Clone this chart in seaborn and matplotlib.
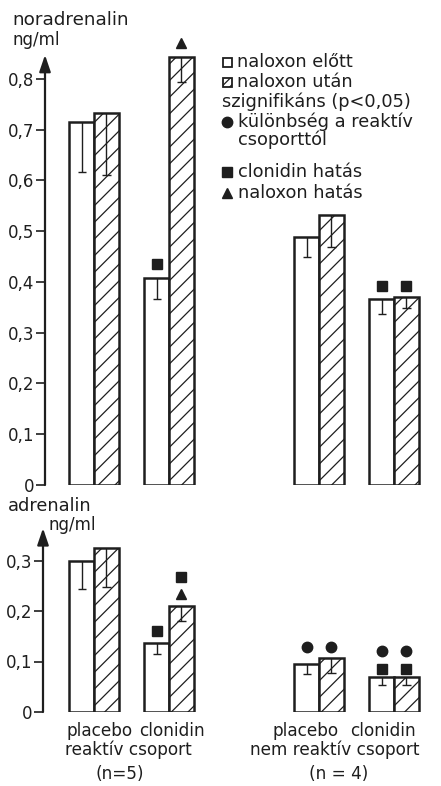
import matplotlib
matplotlib.use("Agg")
import matplotlib.pyplot as plt
import numpy as np
import pandas as pd
import seaborn as sns
from matplotlib.lines import Line2D
from matplotlib.patches import Rectangle

# ---- data -------------------------------------------------------------
# group positions along x (a gap separates the reactive and non-reactive halves)
group_pos = [0, 1, 3, 4]
phases = ["naloxon előtt", "naloxon után"]

# noradrenalin, ng/ml (mean, downward SE)
nor_before = [0.715, 0.408, 0.489, 0.366]
nor_after = [0.733, 0.843, 0.532, 0.370]
nor_before_err = [0.098, 0.042, 0.040, 0.029]
nor_after_err = [0.123, 0.049, 0.063, 0.021]

# adrenalin, ng/ml (mean, downward SE)
adr_before = [0.300, 0.137, 0.096, 0.070]
adr_after = [0.325, 0.210, 0.106, 0.070]
adr_before_err = [0.057, 0.022, 0.020, 0.016]
adr_after_err = [0.077, 0.030, 0.028, 0.016]

# significance symbols: (group index, phase index, symbol, height)
nor_marks = [(1, 0, "s", 0.435), (1, 1, "^", 0.870),
             (3, 0, "s", 0.392), (3, 1, "s", 0.392)]
adr_marks = [(1, 0, "s", 0.160), (1, 1, "^", 0.233), (1, 1, "s", 0.267),
             (2, 0, "o", 0.128), (2, 1, "o", 0.128),
             (3, 0, "s", 0.086), (3, 1, "s", 0.086),
             (3, 0, "o", 0.120), (3, 1, "o", 0.120)]

nor_ticks = [0, 0.1, 0.2, 0.3, 0.4, 0.5, 0.6, 0.7, 0.8]
adr_ticks = [0, 0.1, 0.2, 0.3]

legend_rows = ["naloxon előtt", "naloxon után", "szignifikáns (p<0,05)",
               "különbség a reaktív", "csoporttól", "clonidin hatás", "naloxon hatás"]

# ---- style ------------------------------------------------------------
sns.set_style("ticks")
INK = "#1e1e1e"
plt.rcParams["font.family"] = ["DejaVu Sans"]
plt.rcParams["hatch.linewidth"] = 0.9
plt.rcParams["hatch.color"] = INK
plt.rcParams["text.color"] = INK

W, H = 441, 786
fig = plt.figure(figsize=(W / 100, H / 100), dpi=100, facecolor="white")


def px_rect(left, top, right, bottom):
    return [left / W, 1 - bottom / H, (right - left) / W, (bottom - top) / H]


def fx(x):
    return x / W


def fy(y):
    return 1 - y / H


def fmt_tick(t):
    return "0" if t == 0 else f"{t:.1f}".replace(".", ",")


def draw_panel(ax, before, after, before_err, after_err, marks, ticks,
               ylim, tip, xlim):
    df = pd.DataFrame({
        "pos": group_pos * 2,
        "phase": [phases[0]] * len(before) + [phases[1]] * len(after),
        "value": before + after,
    })
    sns.barplot(data=df, x="pos", y="value", hue="phase", hue_order=phases,
                native_scale=True, width=0.66, palette=["white", "white"],
                saturation=1, edgecolor=INK, linewidth=1.8, errorbar=None,
                legend=False, ax=ax)
    for patch in ax.containers[1]:
        patch.set_hatch("//")

    errs = [before_err, after_err]
    vals = [before, after]
    centers = []
    for k, cont in enumerate(ax.containers[:2]):
        cx = [p.get_x() + p.get_width() / 2 for p in cont]
        centers.append(cx)
        for i, x in enumerate(cx):
            lo = vals[k][i] - errs[k][i]
            ax.vlines(x, lo, vals[k][i], color=INK, lw=1.0, zorder=3)
            ax.hlines(lo, x - 0.055, x + 0.055, color=INK, lw=1.0, zorder=3)

    for gi, ph, sym, yv in marks:
        ms = {"s": 6.8, "^": 7.5, "o": 7.5}[sym]
        ax.plot(centers[ph][gi], yv, marker=sym, ms=ms, color=INK,
                ls="none", clip_on=False, zorder=4)

    ax.set_xlim(*xlim)
    ax.set_ylim(*ylim)
    ax.set_xticks([])
    ax.set_xlabel("")
    ax.set_ylabel("")
    ax.set_yticks(ticks)
    ax.set_yticklabels([fmt_tick(t) for t in ticks])
    ax.tick_params(axis="y", direction="out", length=6.5, width=1.2,
                   color=INK, pad=1, labelsize=12, labelcolor=INK)
    for s in ["top", "right", "bottom", "left"]:
        ax.spines[s].set_visible(False)
    ax.patch.set_alpha(0)
    # y axis drawn as an arrow
    ax.annotate("", xy=(0, tip), xytext=(0, 0),
                xycoords=("axes fraction", "data"),
                textcoords=("axes fraction", "data"),
                arrowprops=dict(arrowstyle="-|>,head_length=1.0,head_width=0.34",
                                color=INK, lw=1.6, shrinkA=0, shrinkB=0),
                annotation_clip=False)


unit = 75.0      # pixels per group step
x0 = 94.0        # pixel position of the first group
ax_top = fig.add_axes(px_rect(45, 28, 441, 485))
draw_panel(ax_top, nor_before, nor_after, nor_before_err, nor_after_err,
           nor_marks, nor_ticks, (0, 0.9), 0.847,
           ((45 - x0) / unit, (441 - x0) / unit))

ax_bot = fig.add_axes(px_rect(43, 510, 441, 712))
draw_panel(ax_bot, adr_before, adr_after, adr_before_err, adr_after_err,
           adr_marks, adr_ticks, (0, 0.4), 0.364,
           ((43 - x0) / unit, (441 - x0) / unit))

# ---- axis titles ------------------------------------------------------
fig.text(fx(12), fy(25), "noradrenalin", fontsize=13.2, va="baseline")
fig.text(fx(12), fy(45), "ng/ml", fontsize=12, va="baseline")
fig.text(fx(8), fy(511), "adrenalin", fontsize=12.8, va="baseline")
fig.text(fx(48), fy(530), "ng/ml", fontsize=12, va="baseline")

# ---- key --------------------------------------------------------------
fig.add_artist(Rectangle((fx(223), fy(67)), 9 / W, 9 / H, transform=fig.transFigure,
                         facecolor="white", edgecolor=INK, lw=1.3))
fig.add_artist(Rectangle((fx(223), fy(87)), 9 / W, 9 / H, transform=fig.transFigure,
                         facecolor="white", edgecolor=INK, lw=1.3, hatch="////"))
fig.add_artist(Line2D([fx(227)], [fy(122)], marker="o", ms=7.5, color=INK,
                      transform=fig.transFigure))
fig.add_artist(Line2D([fx(227)], [fy(172)], marker="s", ms=6.8, color=INK,
                      transform=fig.transFigure))
fig.add_artist(Line2D([fx(227)], [fy(193)], marker="^", ms=7.5, color=INK,
                      transform=fig.transFigure))

key_pos = [(237, 67), (237, 87), (222, 107), (238, 127), (238, 145),
           (238, 177), (238, 198)]
for txt, (x, y) in zip(legend_rows, key_pos):
    fig.text(fx(x), fy(y), txt, fontsize=12.8, va="baseline")

# ---- group labels -----------------------------------------------------
LS = 12.2
fig.text(fx(66), fy(736), "placebo", fontsize=LS, va="baseline")
fig.text(fx(139), fy(736), "clonidin", fontsize=LS, va="baseline")
fig.text(fx(65), fy(755), "reaktív csoport", fontsize=LS, va="baseline")
fig.text(fx(120), fy(779), "(n=5)", fontsize=LS, va="baseline", ha="center")

fig.text(fx(273), fy(736), "placebo", fontsize=LS, va="baseline")
fig.text(fx(350), fy(736), "clonidin", fontsize=LS, va="baseline")
fig.text(fx(419), fy(755), "nem reaktív csoport", fontsize=LS, va="baseline",
         ha="right")
fig.text(fx(339), fy(779), "(n = 4)", fontsize=LS, va="baseline", ha="center")

fig.savefig("out.png", dpi=100, facecolor="white")
